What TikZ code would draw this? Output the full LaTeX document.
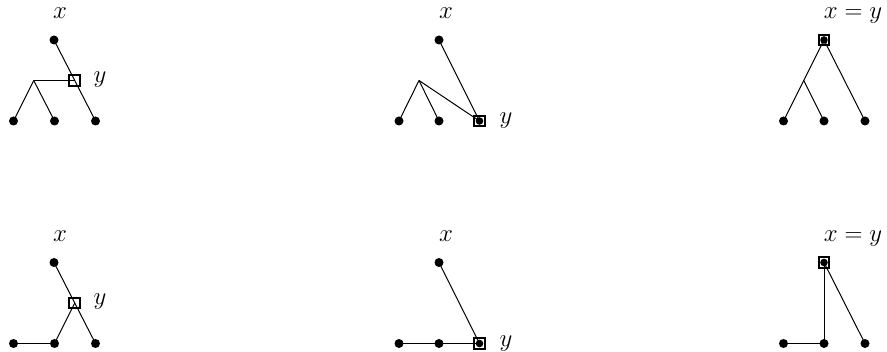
\documentclass[tikz,border=0pt]{standalone}
\usetikzlibrary{calc}
\begin{document}
\begin{tikzpicture}[x=1pt,y=-1pt,
  dot/.style={circle,fill=black,inner sep=0pt,minimum size=9pt},
  idot/.style={circle,fill=black,inner sep=0pt,minimum size=7.6pt},
  sq/.style={draw,line width=2pt,inner sep=0pt,minimum size=10.6pt},
  edge/.style={line width=1pt},
  lab/.style={font=\fontsize{24}{28}\selectfont,anchor=base,inner sep=0pt}]
\useasboundingbox (0,0) rectangle (887,352);
% ---------- panel 1 ----------
\node[dot] (a1t) at (54,40) {};
\node[dot] (a1l) at (13.5,121) {};
\node[dot] (a1m) at (54.5,121) {};
\node[dot] (a1r) at (95.5,121) {};
\coordinate (a1b) at ($(a1l)!0.5!(a1t)$);
\coordinate (a1y) at ($(a1t)!0.5!(a1r)$);
\draw[edge] (a1t.center) -- (a1r.center);
\draw[edge] (a1b) -- (a1l.center);
\draw[edge] (a1b) -- (a1m.center);
\draw[edge] (a1b) -- (a1y);
\node[sq] (a1s) at (a1y) {};
\node[lab] (a1x) at (60,19) {$x$};
\node[lab] (a1ly) at (100,83) {$y$};
% ---------- panel 2 ----------
\node[dot] (a2t) at (439,40) {};
\node[dot] (a2l) at (399,121) {};
\node[dot] (a2m) at (439,121) {};
\coordinate (a2r) at (479.5,121);
\coordinate (a2b) at ($(a2l)!0.5!(a2t)$);
\draw[edge] (a2t.center) -- (a2r);
\draw[edge] (a2b) -- (a2l.center);
\draw[edge] (a2b) -- (a2m.center);
\draw[edge] (a2b) -- (a2r);
\node[sq] (a2s) at (a2r) {};
\node[idot] (a2rd) at (a2r) {};
\node[lab] (a2x) at (446,19) {$x$};
\node[lab] (a2ly) at (506,124) {$y$};
% ---------- panel 3 ----------
\coordinate (a3t) at (824,40);
\node[dot] (a3l) at (783.5,121) {};
\node[dot] (a3m) at (824,121) {};
\node[dot] (a3r) at (865,121) {};
\coordinate (a3b) at ($(a3l)!0.5!(a3t)$);
\draw[edge] (a3t) -- (a3l.center);
\draw[edge] (a3t) -- (a3r.center);
\draw[edge] (a3b) -- (a3m.center);
\node[sq] (a3s) at (a3t) {};
\node[idot] (a3td) at (a3t) {};
\node[lab] (a3x) at (853,19) {$x=y$};
% ---------- panel 4 ----------
\node[dot] (b1t) at (54,262.5) {};
\node[dot] (b1l) at (13.5,343.5) {};
\node[dot] (b1m) at (54.5,343.5) {};
\node[dot] (b1r) at (95.5,343.5) {};
\coordinate (b1y) at ($(b1t)!0.5!(b1r)$);
\draw[edge] (b1t.center) -- (b1r.center);
\draw[edge] (b1y) -- (b1m.center);
\draw[edge] (b1l.center) -- (b1m.center);
\node[sq] (b1s) at (b1y) {};
\node[lab] (b1x) at (60,242) {$x$};
\node[lab] (b1ly) at (100,305) {$y$};
% ---------- panel 5 ----------
\node[dot] (b2t) at (439,262.5) {};
\node[dot] (b2l) at (399,343.5) {};
\node[dot] (b2m) at (439,343.5) {};
\coordinate (b2r) at (479.5,343.5);
\draw[edge] (b2t.center) -- (b2r);
\draw[edge] (b2l.center) -- (b2m.center) -- (b2r);
\node[sq] (b2s) at (b2r) {};
\node[idot] (b2rd) at (b2r) {};
\node[lab] (b2x) at (446,242) {$x$};
\node[lab] (b2ly) at (506,347) {$y$};
% ---------- panel 6 ----------
\coordinate (b3t) at (824,262.5);
\node[dot] (b3l) at (783.5,343.5) {};
\node[dot] (b3m) at (824,343.5) {};
\node[dot] (b3r) at (865,343.5) {};
\draw[edge] (b3t) -- (b3m.center);
\draw[edge] (b3t) -- (b3r.center);
\draw[edge] (b3l.center) -- (b3m.center);
\node[sq] (b3s) at (b3t) {};
\node[idot] (b3td) at (b3t) {};
\node[lab] (b3x) at (853,242) {$x=y$};
\end{tikzpicture}
\end{document}
